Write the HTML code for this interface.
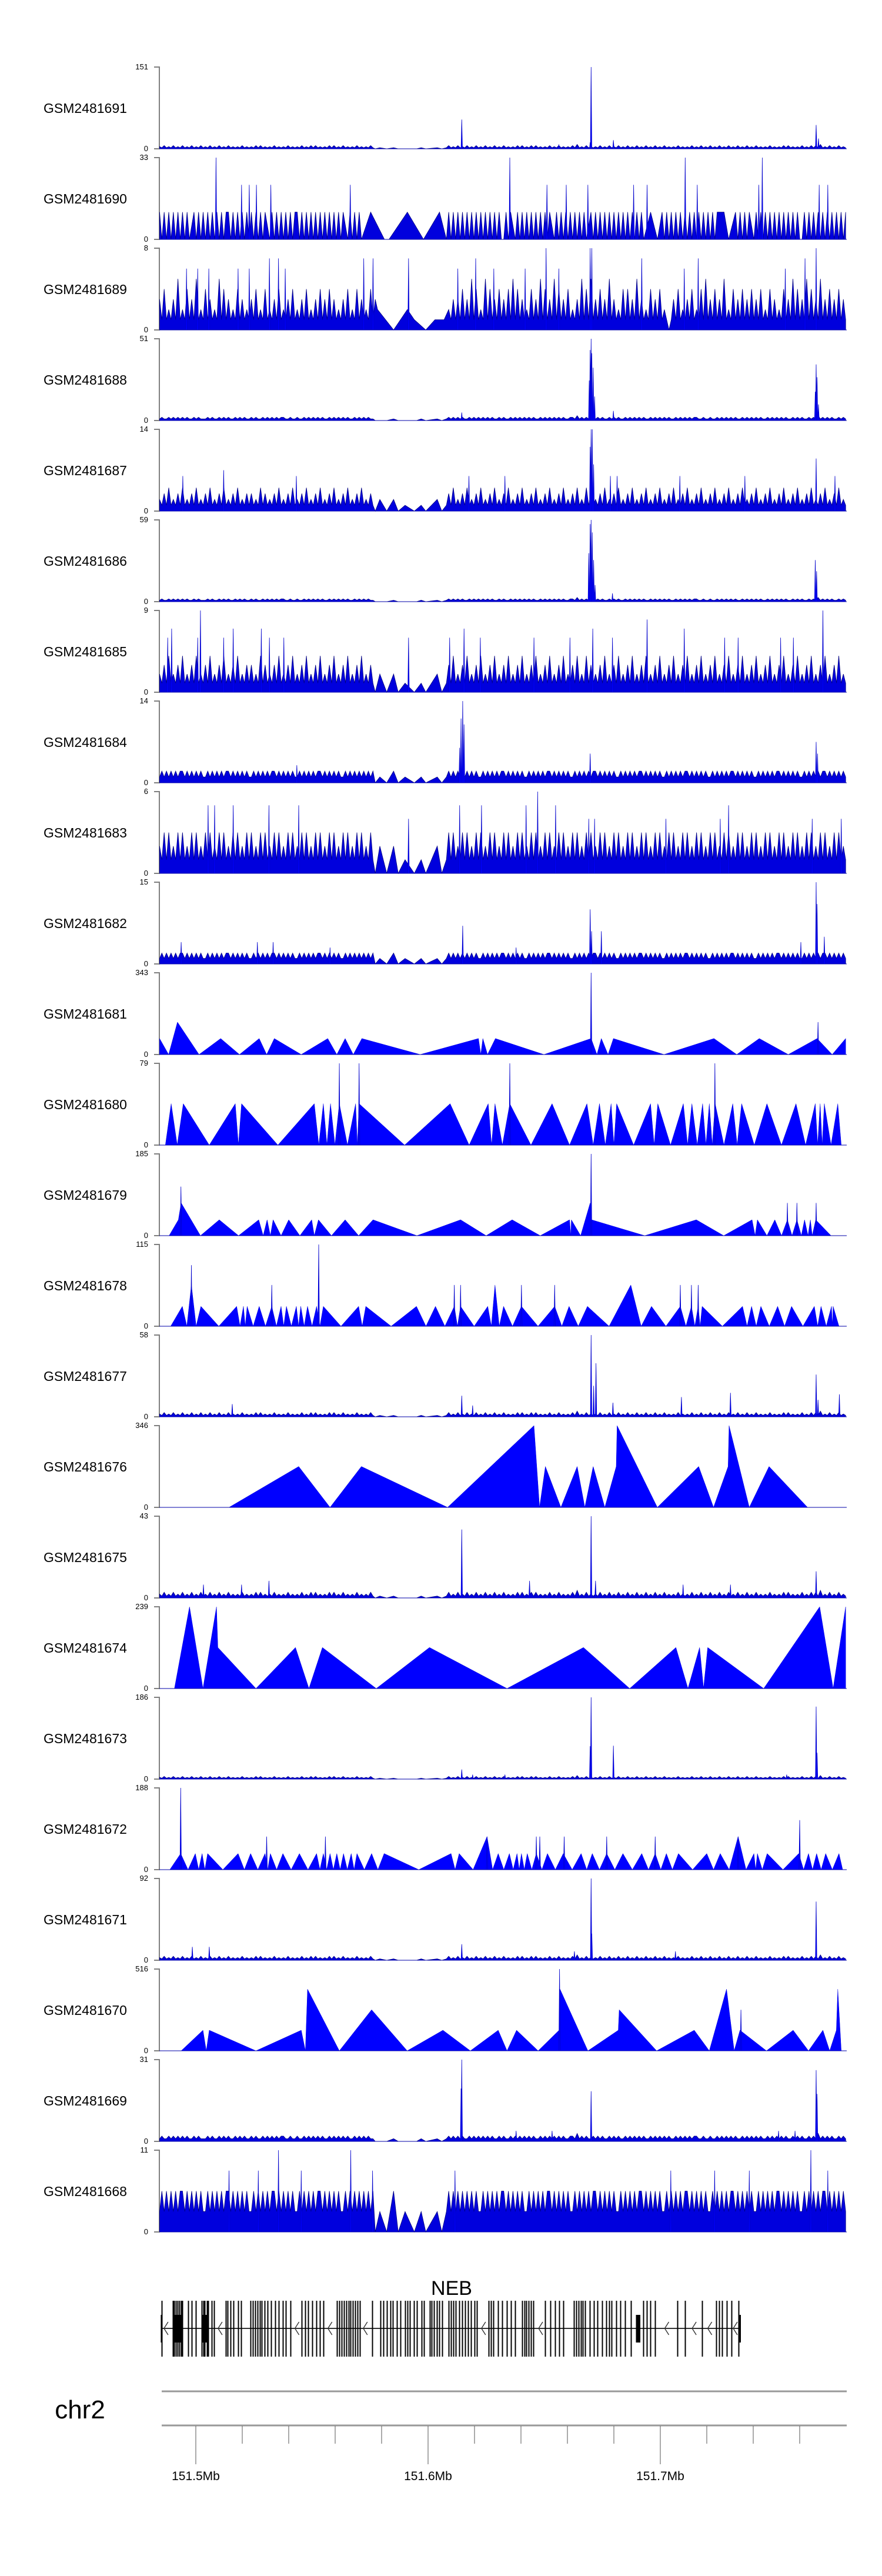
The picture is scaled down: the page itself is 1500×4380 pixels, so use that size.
<!DOCTYPE html>
<html><head><meta charset="utf-8"><title>Coverage tracks NEB chr2</title>
<style>
html,body{margin:0;padding:0;background:#fff;}
svg{display:block;font-family:"Liberation Sans",Arial,sans-serif;}
</style></head>
<body>
<svg id="chart" width="1500" height="4380" viewBox="0 0 1500 4380" xmlns="http://www.w3.org/2000/svg">
<rect x="0" y="0" width="1500" height="4380" fill="#fff"/>
<g id="tracks"></g>
<g id="gene">
<text x="768" y="3902" font-size="34" text-anchor="middle" fill="#000">NEB</text>
</g>
<g id="chrom">
<text x="136" y="4112" font-size="44" text-anchor="middle" fill="#000">chr2</text>
<line x1="275" y1="4066" x2="1440" y2="4066" stroke="#999" stroke-width="3"/>
<line x1="275" y1="4124" x2="1440" y2="4124" stroke="#999" stroke-width="3"/>
</g>
</svg>
<script>
// ---------- names and axis maxima ----------
const trackNames = ["GSM2481691","GSM2481690","GSM2481689","GSM2481688","GSM2481687","GSM2481686","GSM2481685","GSM2481684","GSM2481683","GSM2481682","GSM2481681","GSM2481680","GSM2481679","GSM2481678","GSM2481677","GSM2481676","GSM2481675","GSM2481674","GSM2481673","GSM2481672","GSM2481671","GSM2481670","GSM2481669","GSM2481668"];
const yMaxLabels = [151,33,8,51,14,59,9,14,6,15,343,79,185,115,58,346,43,239,186,188,92,516,31,11];

// positions are in kb from 151.4815 Mb
const KB_START = 2.9, KB_END = 298.3;

// ---------- dense-track background signal (one digit per bin, '.' = no data) ----------
const noiseA = "1211212121 2121121211 1212112121 2112121211 2121121212 1212211211 2112121212 1211212121 2121121212 12110.0..0 ..1.0..0.. ..0.1.0... .1.0.12121 2121121212 1212121121 2112121212 1212112121 2121212112 2131212112 1212112121 2112121212 1211212121 2121121212 1212211211 2112121212 1211212121 2121121212 1212112121 2112121312 1212112121";
const noiseB = "2131213121 3121312131 2131213121 3121213121 2131312121 3121213121 2131213131 2121313121 3121213121 21310.1..0 ..1.0..0.. ..0.1.0... .1.0.13121 3121312131 2131213121 3121213131 2131312121 3121312121 3141213121 2131213121 3121312131 2131213121 3121213121 2131213121 3121312131 2131213121 3121213121 2131312121 3121313141 2131213121";
const noiseC = "2131412131 4121314121 3141213141 2131412131 3121413121 3141213141 2131412131 4121314121 3141213141 21310.2..0 ..2.0..1.. .0..1.0... .2.0.13141 2131412131 4121314121 3141213141 2131412131 4121314121 3141214131 2131412131 4121314121 3141213141 2131412131 4121314121 3141213141 2131412131 4121314121 3141213141 2131412131 4121314121";
const noiseD = "1212121212 2121212121 1212121212 2121212121 1212121212 2121212121 1212121212 2121212121 1212121212 12120.1..0 ..2.0..1.. .0..1.0... .1.0.12121 2121212121 1212121212 2121212121 1212121212 2121212121 1212121212 2121212121 1212121212 2121212121 1212121212 2121212121 1212121212 2121212121 1212121212 2121212121 1212121212 2121212121";
const noiseE = "2131312131 3121313121 3131213131 2131312131 3121313121 3131213131 2131312131 3121313121 3131213131 21310.2..0 ..2.0..1.. .0..1.0... .2.0.13131 2131312131 3121313121 3131213131 2131312131 3121313121 3131213131 2131312131 3121313121 3131213131 2131312131 3121313121 3131213131 2131312131 3121313121 3131213131 2131312131 3121313121";
const noise_1690 = "1010101010 1010.10101 0101010101 1010101010 1010101.01 0101010101 1010101010 1010101010 1.0101010. ..1.....0. 0.......1. .....0.... ..1..01010 1010101010 1010101010 0101.01010 1010101010 1.01010101 0101010.10 1010101010 1010101010 10..1..0.1 0101010101 0101010101 0101..1.0. .1010101.0 1010101010 1010101010 0101010101 0101010101";
const noise_1689 = "3141213151 2141315121 4131215141 3121413121 3141214121 3141213141 2131412131 4131413121 3141214131 214132.... ..0.....2. .1....0... 1.1.1.2131 3141315141 2151413141 3141514131 2141315141 3151413141 2131514151 3141315131 2141413151 3121413141 2101314121 3141214151 3141315121 4131413141 3141214131 2141315141 3151413151 3141314131";

// ---------- dense-track peaks [kb, value] ----------
const peaks_1691 = [[188.7,151],[133.0,54],[285.6,44],[286.6,19],[198.3,16],[188.3,12],[174.8,8]];
const peaks_1690 = [[27.2,33],[153.7,33],[229.2,33],[262.4,33],[38.2,22],[41.5,22],[44.6,22],[50.8,22],[85.0,22],[169.7,22],[178.0,22],[187.3,22],[207.0,22],[212.8,22],[234.4,22],[260.9,22],[286.9,22],[290.6,22]];
const peaks_1689 = [[169.3,8],[188.3,8],[189.0,8],[285.6,8],[50.2,7],[54.1,7],[90.8,7],[94.8,7],[110.1,7],[139.0,7],[210.5,7],[234.8,7],[280.8,7],[14.5,6],[19.3,6],[24.1,6],[36.7,6],[41.5,6],[57.0,6],[131.3,6],[146.8,6],[160.3,6],[174.8,6],[228.8,6],[272.3,6]];
const peaks_1688 = [[188.7,51],[188.3,44],[189.0,42],[189.6,33],[187.9,25],[190.2,15],[285.6,35],[286.0,27],[285.2,18],[286.6,10],[133.0,5],[198.3,6]];
const peaks_1687 = [[188.7,14],[189.2,14],[188.3,11],[189.8,8],[285.6,9],[30.5,7],[199.9,6],[197.0,6],[12.9,6],[61.8,6],[136.1,6],[151.6,6],[226.9,6],[254.9,6],[293.7,6]];
const peaks_1686 = [[188.7,59],[188.3,56],[189.2,50],[189.8,30],[187.7,35],[190.4,12],[285.2,30],[285.8,22],[197.9,6]];
const peaks_1685 = [[20.5,9],[288.5,9],[212.8,8],[8.1,7],[34.6,7],[46.7,7],[134.0,7],[189.4,7],[228.8,7],[6.4,6],[19.3,6],[30.5,6],[50.2,6],[56.4,6],[110.1,6],[127.8,6],[141.0,6],[164.1,6],[179.6,6],[197.9,6],[246.2,6],[252.0,6],[270.3,6],[275.8,6]];
const peaks_1684 = [[133.4,14],[132.7,11],[134.0,10],[132.1,6],[285.6,7],[286.2,5],[188.3,5],[62.0,3]];
const peaks_1683 = [[165.7,6],[23.8,5],[26.6,5],[34.6,5],[50.0,5],[62.8,5],[132.1,5],[141.5,5],[160.7,5],[173.4,5],[247.9,5],[110.1,4],[187.7,4],[190.2,4],[220.9,4],[244.3,4],[283.9,4],[296.4,4]];
const peaks_1682 = [[285.6,15],[286.0,11],[188.3,10],[188.9,6],[193.1,6],[133.4,7],[289.1,5],[279.0,4],[12.2,4],[45.0,4],[51.8,4],[156.4,3],[76.3,3]];
const peaks_1677 = [[188.7,58],[190.8,38],[189.8,22],[133.0,15],[285.6,30],[286.4,12],[248.7,17],[295.6,16],[227.6,14],[198.1,10],[34.2,9],[137.7,8]];
const peaks_1675 = [[188.7,43],[133.0,36],[285.6,14],[190.6,9],[162.2,9],[50.0,9],[21.8,7],[38.2,7],[228.3,7],[248.7,7]];
const peaks_1673 = [[188.7,186],[188.3,75],[198.3,76],[285.6,165],[286.0,60],[133.0,22],[272.9,10],[151.6,10],[137.7,10]];
const peaks_1671 = [[188.7,92],[189.0,30],[285.6,66],[133.0,18],[24.3,15],[17.0,15],[225.0,10],[181.5,10]];
const peaks_1669 = [[133.0,31],[132.7,20],[188.7,19],[285.6,27],[286.0,18],[156.4,4],[171.9,4],[269.4,4],[276.5,4]];
const peaks_1668 = [[32.8,8.25],[45.4,8.25],[63.9,8.25],[94.6,8.25],[130.1,8.25],[223.0,8.25],[241.9,8.25],[256.8,8.25],[290.6,8.25],[54.1,11],[85.2,11],[283.3,11]];

// ---------- sparse (triangle) tracks: points [kb, value] ----------
const pts_1681 = [[2.9,67],[6.8,0],[10.6,136],[19.9,0],[29.2,67],[37.3,0],[45.8,67],[49.0,0],[52.3,67],[63.9,0],[75.3,67],[79.2,0],[82.8,67],[86.3,0],[90.0,67],[115.1,0],[140.2,67],[141.2,0],[142.1,67],[144.1,0],[147.5,67],[168.4,0],[188.7,67],[191.2,0],[193.1,67],[196.0,0],[198.3,67],[220.1,0],[241.6,67],[251.4,0],[261.1,67],[273.6,0],[286.0,67],[292.5,0],[298.3,67]];
const peaks_1681 = [[188.7,343],[286.4,136]];
const pts_1680 = [[5.4,0],[7.9,40],[13.1,40],[35.5,40],[38.2,40],[69.5,40],[73.4,40],[76.5,40],[80.3,40],[87.3,40],[88.8,40],[128.0,40],[144.4,40],[147.3,40],[153.7,40],[171.9,40],[186.9,40],[192.3,40],[197.3,40],[199.7,40],[214.3,40],[217.4,40],[228.4,40],[232.1,40],[236.7,40],[239.6,40],[242.1,40],[249.7,40],[253.5,40],[264.4,40],[276.9,40],[285.2,40],[287.3,40],[289.1,40],[294.9,40],[296.4,0]];
const peaks_1680 = [[80.3,79],[88.8,79],[153.7,79],[242.0,79]];
const pts_1679 = [[7.0,0],[11.0,36],[12.2,74],[20.5,0],[28.6,36],[36.9,0],[45.6,36],[47.5,0],[49.2,36],[50.6,0],[51.8,36],[55.2,0],[58.5,36],[63.3,0],[68.4,36],[69.5,0],[71.3,36],[76.9,0],[82.8,36],[88.6,0],[94.8,36],[113.7,0],[132.5,36],[143.5,0],[154.7,36],[166.8,0],[179.4,36],[180.0,0],[180.2,36],[184.2,0],[188.3,74],[188.9,36],[211.8,0],[234.0,36],[245.8,0],[258.0,36],[259.3,0],[260.3,36],[264.4,0],[267.8,36],[270.7,0],[273.2,36],[275.2,0],[277.3,36],[279.2,0],[280.6,36],[282.1,0],[283.1,36],[283.9,0],[285.4,36],[292.0,0]];
const peaks_1679 = [[12.1,111],[188.7,185],[273.2,74],[277.3,74],[285.6,74]];
const pts_1678 = [[7.7,0],[12.7,28],[16.6,58],[20.7,28],[36.1,28],[39.0,28],[40.6,28],[45.8,28],[51.2,28],[55.2,28],[57.5,28],[61.8,28],[63.7,28],[66.6,28],[70.5,28],[73.4,28],[88.6,28],[91.7,28],[113.5,28],[121.7,28],[129.8,28],[132.5,28],[144.2,28],[147.3,58],[151.0,28],[158.7,28],[173.0,28],[179.2,28],[187.1,28],[205.8,58],[214.7,28],[227.1,28],[231.9,28],[234.8,28],[236.5,28],[253.9,28],[257.8,28],[261.8,28],[269.0,28],[275.0,28],[284.8,28],[287.7,28],[292.2,28],[292.9,28],[295.4,0]];
const peaks_1678 = [[16.6,86],[51.2,58],[71.4,115],[129.8,58],[132.5,58],[158.7,58],[173.0,58],[227.1,58],[231.9,58],[234.8,58]];
const pts_1676 = [[32.8,0],[62.8,173],[76.3,0],[89.8,173],[126.9,0],[164.1,346],[166.5,0],[169.0,173],[175.7,0],[182.7,173],[186.0,0],[189.6,173],[194.6,0],[199.5,173],[199.9,346],[217.2,0],[235.0,173],[241.4,0],[247.7,173],[248.1,346],[256.8,0],[265.3,173],[281.9,0]];
const peaks_1676 = [];
const pts_1674 = [[9.3,0],[15.8,239],[21.6,0],[27.4,239],[28.0,120],[44.4,0],[61.4,120],[67.2,0],[73.0,120],[96.2,0],[119.1,120],[152.5,0],[185.4,120],[205.3,0],[225.2,120],[230.4,0],[235.4,120],[237.1,0],[238.9,120],[263.0,0],[287.1,239],[292.9,0],[298.3,239]];
const peaks_1674 = [];
const pts_1672 = [[7.3,0],[12.0,37],[18.3,37],[21.2,37],[23.6,37],[36.7,37],[42.1,37],[48.3,37],[50.6,37],[56.0,37],[63.1,37],[70.5,37],[73.4,37],[76.3,37],[79.2,37],[82.1,37],[85.4,37],[87.9,37],[94.2,37],[99.6,37],[114.5,0],[128.4,37],[131.9,37],[143.9,76],[148.7,37],[153.5,37],[156.8,37],[158.7,37],[161.2,37],[165.1,37],[169.9,37],[176.7,37],[184.4,37],[189.2,37],[195.4,37],[202.4,37],[210.5,37],[216.3,37],[221.1,37],[226.3,37],[238.5,37],[244.3,37],[252.0,76],[258.8,37],[260.3,37],[264.5,37],[271.3,0],[278.1,37],[282.3,37],[285.8,37],[289.7,37],[295.4,37],[297.0,0]];
const peaks_1672 = [[12.0,188],[49.0,76],[74.3,76],[143.9,76],[165.1,76],[166.6,76],[177.1,76],[195.4,76],[216.3,76],[252.0,76],[278.5,114]];
const pts_1670 = [[12.2,0],[21.6,130],[23.0,0],[24.3,130],[44.4,0],[63.9,130],[65.7,0],[66.6,389],[80.3,0],[94.2,259],[109.5,0],[124.9,130],[136.7,0],[148.7,130],[152.5,0],[156.6,130],[165.9,0],[174.9,130],[175.3,389],[187.3,0],[200.4,130],[200.8,259],[216.9,0],[233.1,130],[239.6,0],[247.0,389],[250.3,0],[252.8,130],[264.2,0],[275.7,130],[282.3,0],[288.5,130],[291.4,0],[294.3,130],[294.9,389],[296.4,0]];
const peaks_1670 = [[175.1,516],[253.2,259]];

// ---------- gene model ----------
const exonKb = [3.8,8.5,9.2,9.9,10.7,11.4,12.1,12.6,15.1,16.8,18.5,21.0,21.7,22.4,23.2,23.9,25.4,26.4,31.3,32.2,33.5,34.7,36.7,37.9,42.0,43.0,44.0,45.0,46.0,46.9,48.2,49.4,50.9,52.8,54.3,56.0,57.2,59.2,64.1,65.6,66.8,68.5,70.5,71.9,73.4,79.3,80.3,81.3,82.2,83.2,84.2,85.2,86.2,87.1,88.1,89.1,94.5,97.9,99.2,100.9,102.3,103.3,105.0,106.5,108.7,109.7,110.7,112.4,113.6,115.6,116.8,119.3,120.0,121.0,122.4,123.4,124.6,127.3,128.3,129.3,130.3,131.8,133.2,134.5,135.7,137.1,138.6,139.6,144.5,145.5,146.5,148.7,150.4,152.3,154.3,156.0,159.0,159.9,160.9,161.9,162.9,163.9,169.0,171.2,173.2,174.9,176.8,181.3,182.2,183.2,184.2,185.2,186.2,188.1,189.8,191.5,193.5,195.2,196.5,197.4,199.6,201.4,203.3,205.8,211.2,212.6,214.1,216.1,225.9,229.1,236.4,242.5,243.8,245.0,247.2,249.1,252.1];
const exonBlocksStart = [9.0,21.2,208.0];
const exonBlocksEnd = [12.1,24.2,209.9];
const geneSpan = [3.8,252.8];
const strandArrowsKb = [5.3,28.6,61.7,75.9,91.1,142.0,166.6,220.9,232.7,239.4,250.4];

// ---------- genome axis ----------
const axisTicksMb = [151.50,151.52,151.54,151.56,151.58,151.60,151.62,151.64,151.66,151.68,151.70,151.72,151.74,151.76];
const axisLabelsMb = [151.5,151.6,151.7];
const axisLabelText = ["151.5Mb","151.6Mb","151.7Mb"];

// ---------- track definitions (reference arrays above) ----------
const denseTracks = {
  "GSM2481691":[noiseB, peaks_1691, 2],
  "GSM2481690":[noise_1690, peaks_1690, 11],
  "GSM2481689":[noise_1689, peaks_1689, 1],
  "GSM2481688":[noiseA, peaks_1688, 1],
  "GSM2481687":[noiseC, peaks_1687, 1],
  "GSM2481686":[noiseA, peaks_1686, 1],
  "GSM2481685":[noiseC, peaks_1685, 1],
  "GSM2481684":[noiseD, peaks_1684, 1],
  "GSM2481683":[noiseE, peaks_1683, 1],
  "GSM2481682":[noiseD, peaks_1682, 1],
  "GSM2481677":[noiseB, peaks_1677, 1],
  "GSM2481675":[noiseB, peaks_1675, 1],
  "GSM2481673":[noiseB, peaks_1673, 2],
  "GSM2481671":[noiseB, peaks_1671, 1.5],
  "GSM2481669":[noiseA, peaks_1669, 1],
  "GSM2481668":[noiseD, peaks_1668, 2.75]
};
const sparseTracks = {
  "GSM2481681":[pts_1681, peaks_1681, false],
  "GSM2481680":[pts_1680, peaks_1680, true],
  "GSM2481679":[pts_1679, peaks_1679, false],
  "GSM2481678":[pts_1678, peaks_1678, true],
  "GSM2481676":[pts_1676, peaks_1676, false],
  "GSM2481674":[pts_1674, peaks_1674, false],
  "GSM2481672":[pts_1672, peaks_1672, true],
  "GSM2481670":[pts_1670, peaks_1670, false]
};

const NS = "http://www.w3.org/2000/svg";
function mk(tag, parent){ const e = document.createElementNS(NS, tag); parent.appendChild(e); return e; }
function xOf(kb){ return 333 + (kb - 18.5) * 3.95; }
function mbToKb(mb){ return (mb - 151.4815) * 1000; }

const TRACK_TOP0 = 114, TRACK_STEP = 154, TRACK_H = 139;
const tracksG = document.getElementById("tracks");

trackNames.forEach(function(name, t){
  const top = TRACK_TOP0 + t * TRACK_STEP, base = top + TRACK_H, ymax = yMaxLabels[t];
  const yOf = function(v){ return base - Math.min(v, ymax) / ymax * TRACK_H; };
  const isDense = !!denseTracks[name];
  const g = mk("g", tracksG);
  
  

  const lab = mk("text", g);
  
  
  lab.setAttribute("x", 74); lab.setAttribute("y", top + 78);
  lab.setAttribute("font-size", 23); lab.setAttribute("fill", "#000");
  lab.textContent = name;

  const ax = mk("path", g);
  
  
  ax.setAttribute("d", "M262 " + top + " H271 V" + base + " H262");
  ax.setAttribute("fill", "none"); ax.setAttribute("stroke", "#7f7f7f"); ax.setAttribute("stroke-width", 2);

  const tMax = mk("text", g);
  
  
  tMax.setAttribute("x", 252); tMax.setAttribute("y", top + 4);
  tMax.setAttribute("font-size", 13); tMax.setAttribute("text-anchor", "end"); tMax.setAttribute("fill", "#000");
  tMax.textContent = String(ymax);

  const tMin = mk("text", g);
  
  
  tMin.setAttribute("x", 252); tMin.setAttribute("y", base + 4);
  tMin.setAttribute("font-size", 13); tMin.setAttribute("text-anchor", "end"); tMin.setAttribute("fill", "#000");
  tMin.textContent = "0";

  let pts = [], peaks = [];
  if (isDense) {
    const d = denseTracks[name];
    const s = d[0].replace(/ /g, "");
    const n = s.length;
    for (let i = 0; i < n; i++) {
      const c = s[i];
      if (c === ".") continue;
      pts.push([KB_START + i * (KB_END - KB_START) / (n - 1), (+c) * d[2]]);
    }
    peaks = d[1];
  } else {
    const d = sparseTracks[name];
    const raw = d[0];
    for (let i = 0; i < raw.length; i++) {
      if (d[2] && i > 0 && raw[i][1] > 0 && raw[i-1][1] > 0) {
        pts.push([(raw[i][0] + raw[i-1][0]) / 2, 0]);
      }
      pts.push(raw[i]);
    }
    peaks = d[1];
  }

  let path = "M" + xOf(pts[0][0]).toFixed(1) + " " + base;
  pts.forEach(function(p){ path += " L" + xOf(p[0]).toFixed(1) + " " + yOf(p[1]).toFixed(1); });
  path += " L" + xOf(pts[pts.length-1][0]).toFixed(1) + " " + base + " Z";
  const area = mk("path", g);
  
  
  area.setAttribute("d", path);
  area.setAttribute("fill", isDense ? "#0000dd" : "#0000ff");
  area.setAttribute("stroke", isDense ? "#000080" : "#0000e0");
  area.setAttribute("stroke-width", isDense ? 0.8 : 0.5);

  peaks.forEach(function(p){
    const pk = mk("path", g);
    
    
    const x = xOf(p[0]);
    pk.setAttribute("d", "M" + (x-1.2).toFixed(1) + " " + base + " L" + x.toFixed(1) + " " + yOf(p[1]).toFixed(1) + " L" + (x+1.2).toFixed(1) + " " + base + " Z");
    pk.setAttribute("fill", "#0000ff");
    pk.setAttribute("stroke", "#0000cc");
    pk.setAttribute("stroke-width", 0.8);
  });

  const bl = mk("line", g);
  
  
  bl.setAttribute("x1", 271); bl.setAttribute("x2", 1440);
  bl.setAttribute("y1", base); bl.setAttribute("y2", base);
  bl.setAttribute("stroke", "#0000aa"); bl.setAttribute("stroke-width", 1);
});

// gene model
const geneG = document.getElementById("gene");
const gl = mk("line", geneG);


gl.setAttribute("x1", xOf(geneSpan[0])); gl.setAttribute("x2", xOf(geneSpan[1]));
gl.setAttribute("y1", 3959); gl.setAttribute("y2", 3959);
gl.setAttribute("stroke", "#333"); gl.setAttribute("stroke-width", 2);
exonKb.forEach(function(k){
  const ex = mk("line", geneG);
  
  
  const x = Math.round(xOf(k)) + 0.5;
  ex.setAttribute("x1", x); ex.setAttribute("x2", x);
  ex.setAttribute("y1", 3912); ex.setAttribute("y2", 4007);
  ex.setAttribute("stroke", "#000"); ex.setAttribute("stroke-width", 1.6);
  ex.setAttribute("shape-rendering", "crispEdges");
});
exonBlocksStart.forEach(function(s, i){
  const b = mk("rect", geneG);
  
  
  b.setAttribute("x", xOf(s).toFixed(1)); b.setAttribute("width", (xOf(exonBlocksEnd[i]) - xOf(s)).toFixed(1));
  b.setAttribute("y", 3936); b.setAttribute("height", 47); b.setAttribute("fill", "#000");
});
["start","end"].forEach(function(w, i){
  const e = mk("rect", geneG);
  
  
  e.setAttribute("x", (xOf(geneSpan[i]) - 1.5).toFixed(1)); e.setAttribute("width", 3);
  e.setAttribute("y", 3936); e.setAttribute("height", 47); e.setAttribute("fill", "#000");
});
strandArrowsKb.forEach(function(k){
  const a = mk("path", geneG);
  
  
  const x = xOf(k);
  a.setAttribute("d", "M" + (x+5).toFixed(1) + " 3948 L" + (x-2).toFixed(1) + " 3959 L" + (x+5).toFixed(1) + " 3970");
  a.setAttribute("fill", "none"); a.setAttribute("stroke", "#333"); a.setAttribute("stroke-width", 1.4);
});

// genome axis ticks
const chromG = document.getElementById("chrom");
axisTicksMb.forEach(function(mb){
  const major = axisLabelsMb.some(function(m){ return Math.abs(m - mb) < 1e-6; });
  const tk = mk("line", chromG);
  
  
  const x = xOf(mbToKb(mb)).toFixed(1);
  tk.setAttribute("x1", x); tk.setAttribute("x2", x);
  tk.setAttribute("y1", 4125); tk.setAttribute("y2", major ? 4190 : 4155);
  tk.setAttribute("stroke", "#555"); tk.setAttribute("stroke-width", 1);
});
axisLabelsMb.forEach(function(mb, i){
  const tl = mk("text", chromG);
  
  
  tl.setAttribute("x", xOf(mbToKb(mb)).toFixed(1)); tl.setAttribute("y", 4217);
  tl.setAttribute("font-size", 21); tl.setAttribute("text-anchor", "middle"); tl.setAttribute("fill", "#000");
  tl.textContent = axisLabelText[i];
});
</script>
</body></html>
